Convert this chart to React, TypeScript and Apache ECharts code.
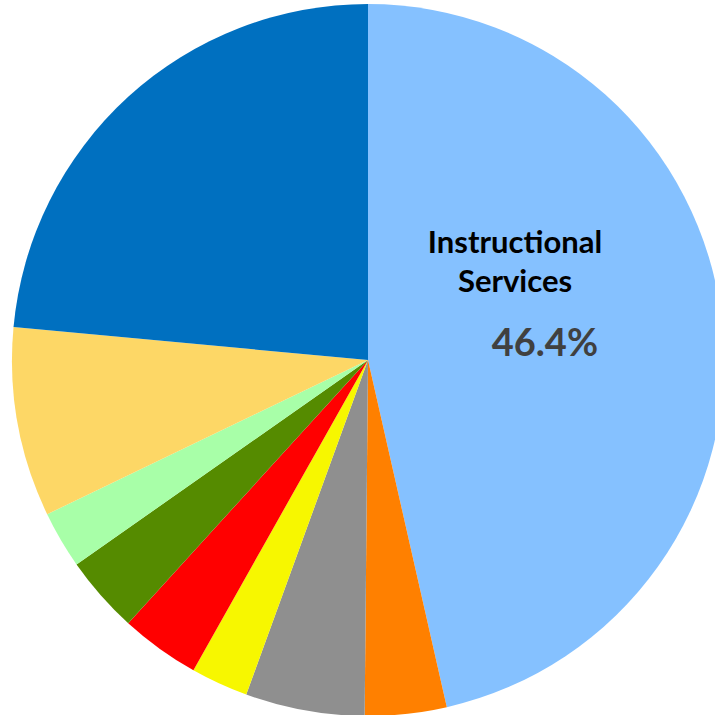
import React, { useEffect, useRef } from "react";
import * as echarts from "echarts";

const categories = [
  "Instructional Services",
  "Category 2",
  "Category 3",
  "Category 4",
  "Category 5",
  "Category 6",
  "Category 7",
  "Category 8",
  "Category 9",
];
const values = [46.4, 3.7, 5.4, 2.6, 3.6, 3.5, 2.6, 8.6, 23.5];
const colors = [
  "#85C1FF",
  "#FF8000",
  "#8F8F8F",
  "#F7F700",
  "#FF0000",
  "#558B00",
  "#A8FFA8",
  "#FDD766",
  "#0070C0",
];

export default function App() {
  const ref = useRef<HTMLDivElement>(null);
  useEffect(() => {
    document.body.style.margin = "0";
    document.body.style.overflow = "hidden";
    if (!ref.current) return;
    const chart = echarts.init(ref.current, null, { renderer: "svg" });
    chart.setOption({
      animation: false,
      graphic: [
        {
          type: "text",
          z: 100,
          x: 515,
          y: 221,
          style: {
            text: "Instructional\nServices",
            fontFamily: "Lato",
            fontWeight: "bold",
            fontSize: 31,
            fill: "#000000",
            align: "center",
            verticalAlign: "top",
            lineHeight: 39,
          },
        },
      ],
      series: [
        {
          type: "pie",
          center: [368, 360],
          radius: 356,
          startAngle: 90,
          clockwise: true,
          silent: true,
          label: { show: false },
          labelLine: { show: false },
          data: categories.map((name, i) => ({
            name,
            value: values[i],
            itemStyle: { color: colors[i] },
            label:
              i === 0
                ? {
                    show: true,
                    position: "inside",
                    formatter: "{c}%",
                    fontFamily: "Lato",
                    fontWeight: "bold",
                    fontSize: 38,
                    color: "#404040",
                    offset: [-3, 1],
                  }
                : { show: false },
          })),
        },
      ],
    });
    return () => chart.dispose();
  }, []);
  return <div ref={ref} style={{ width: 715, height: 715 }} />;
}
